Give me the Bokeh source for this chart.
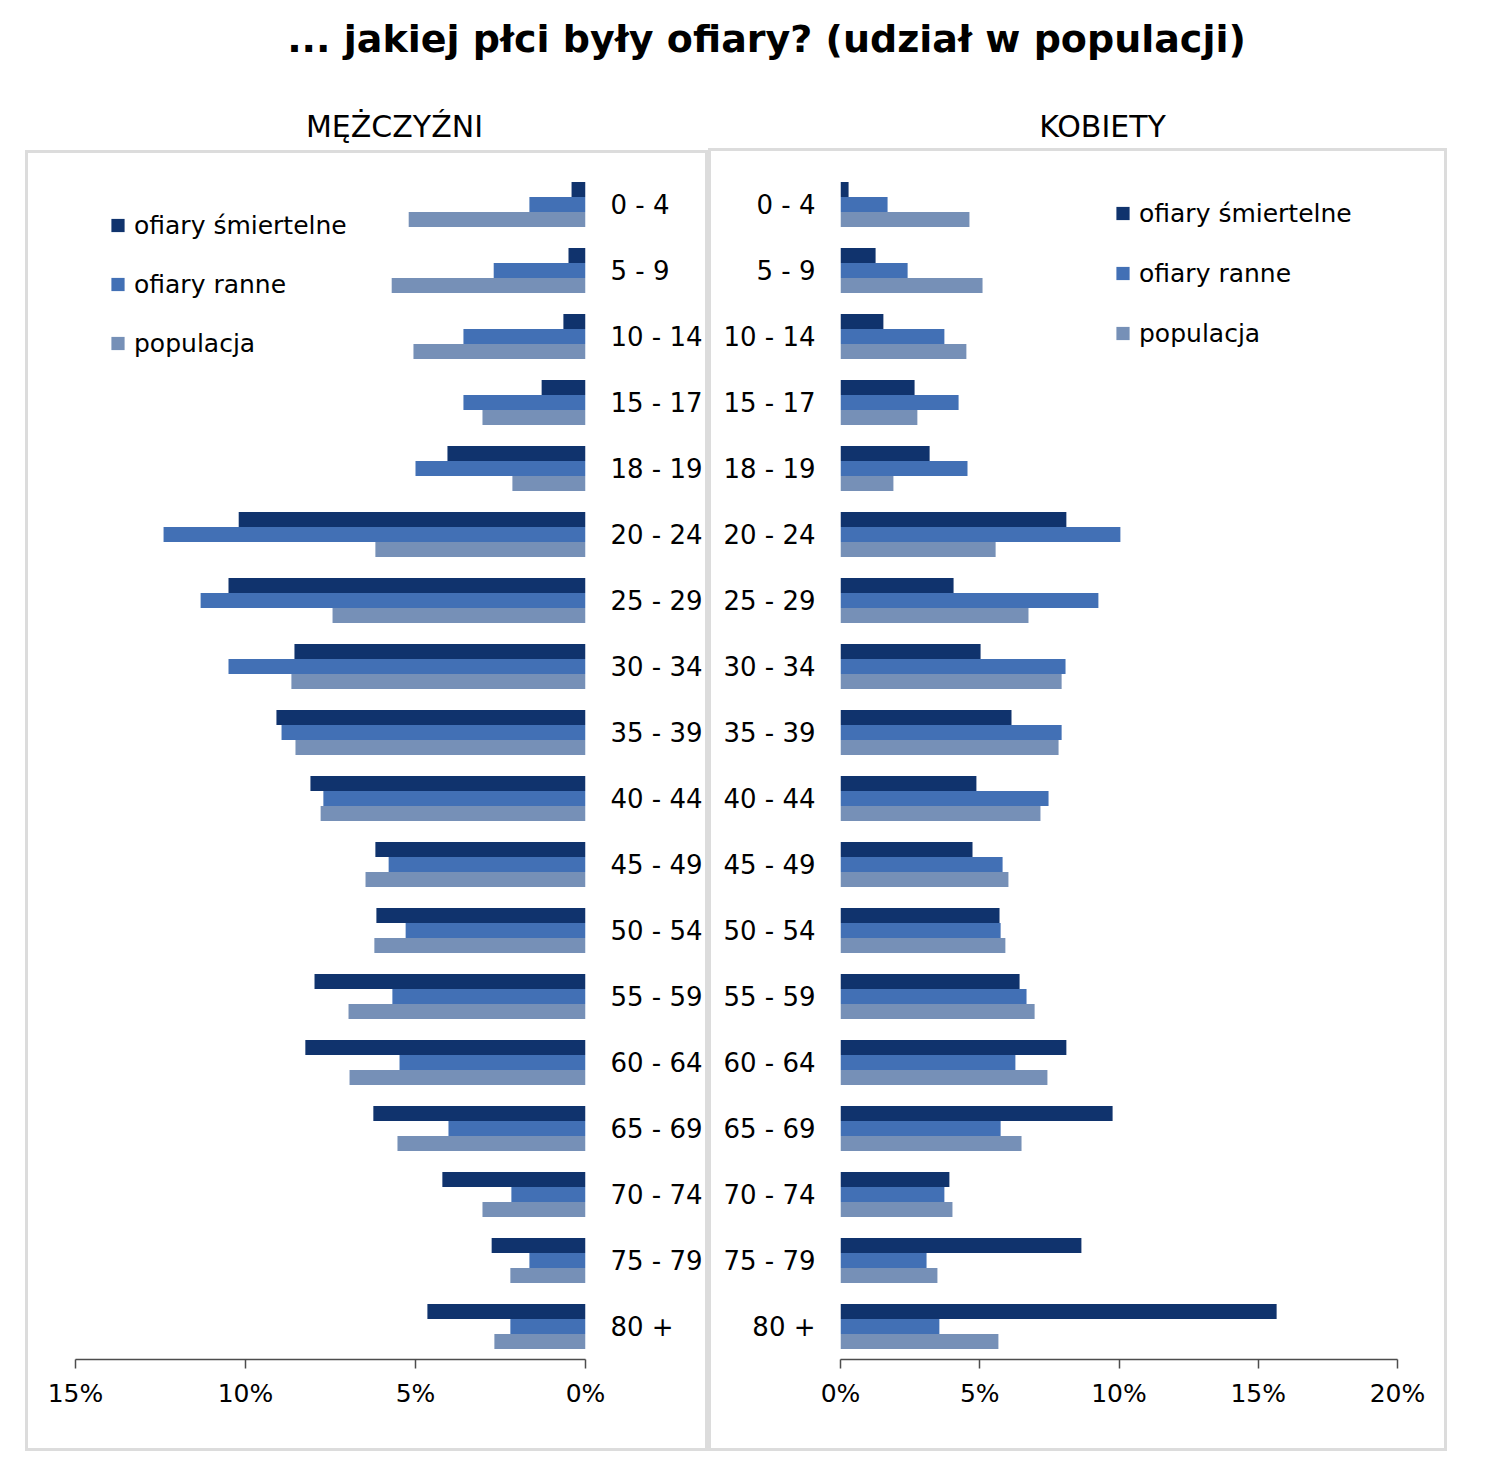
from bokeh.plotting import figure
from bokeh.models import (Range1d, FactorRange, FixedTicker, CustomJSTickFormatter,
                          Legend, LegendItem, ColumnDataSource, Spacer)
from bokeh.layouts import column, row
from bokeh.transform import dodge
from bokeh.core.properties import value
from bokeh.embed import file_html
from bokeh.resources import INLINE

# ---------------- data ----------------
categories = ["0 - 4", "5 - 9", "10 - 14", "15 - 17", "18 - 19", "20 - 24", "25 - 29",
              "30 - 34", "35 - 39", "40 - 44", "45 - 49", "50 - 54", "55 - 59",
              "60 - 64", "65 - 69", "70 - 74", "75 - 79", "80 +"]
series_names = ["ofiary śmiertelne", "ofiary ranne", "populacja"]

men_fatal = [0.41, 0.50, 0.65, 1.29, 4.06, 10.20, 10.50, 8.56, 9.09, 8.09, 6.18, 6.15,
             7.97, 8.24, 6.24, 4.21, 2.76, 4.65]
men_injured = [1.65, 2.70, 3.59, 3.59, 5.00, 12.41, 11.32, 10.50, 8.94, 7.71, 5.79, 5.29,
               5.68, 5.47, 4.03, 2.18, 1.65, 2.21]
men_pop = [5.20, 5.70, 5.06, 3.03, 2.15, 6.18, 7.44, 8.65, 8.53, 7.79, 6.47, 6.21,
           6.97, 6.94, 5.53, 3.03, 2.21, 2.68]

women_fatal = [0.29, 1.26, 1.54, 2.66, 3.20, 8.11, 4.06, 5.03, 6.14, 4.88, 4.74, 5.71,
               6.43, 8.11, 9.77, 3.91, 8.65, 15.66]
women_injured = [1.69, 2.41, 3.73, 4.24, 4.56, 10.05, 9.26, 8.08, 7.94, 7.47, 5.82, 5.75,
                 6.68, 6.28, 5.75, 3.73, 3.09, 3.55]
women_pop = [4.63, 5.10, 4.52, 2.76, 1.90, 5.57, 6.75, 7.94, 7.83, 7.18, 6.03, 5.92,
             6.97, 7.43, 6.50, 4.02, 3.48, 5.67]

men_ticks = [0, 5, 10, 15]
women_ticks = [0, 5, 10, 15, 20]

title_text = "... jakiej płci były ofiary? (udział w populacji)"
men_title = "MĘŻCZYŹNI"
women_title = "KOBIETY"

# ---------------- style ----------------
COLORS = ["#10336d", "#4270b5", "#7690b7"]
FONT = "DejaVu Sans"
BORDER = "3px solid #dcdcdc"
OFFSETS = [0.227, 0.0, -0.227]
BAR_H = 0.226


def make_panel(fatal, injured, pop, x_start, x_end, ticks, side, w, h,
               mb_left, mb_right, mb_top, legend_loc, legend_spacing):
    src = ColumnDataSource(dict(cat=categories, fatal=fatal, injured=injured, pop=pop))
    p = figure(width=w, height=h, output_backend="svg", toolbar_location=None,
               x_range=Range1d(x_start, x_end),
               y_range=FactorRange(factors=list(reversed(categories))),
               y_axis_location=side,
               min_border_left=mb_left, min_border_right=mb_right,
               min_border_top=mb_top, min_border_bottom=95,
               styles={"border": BORDER})
    p.outline_line_color = None
    p.xgrid.visible = False
    p.ygrid.visible = False
    p.background_fill_color = "white"
    p.border_fill_color = "white"

    for col, off, c in zip(["fatal", "injured", "pop"], OFFSETS, COLORS):
        p.hbar(y=dodge("cat", off, range=p.y_range), left=0, right=col, height=BAR_H,
               source=src, fill_color=c, line_color=None)

    # x axis
    xa = p.xaxis[0]
    xa.ticker = FixedTicker(ticks=ticks)
    xa.formatter = CustomJSTickFormatter(code="return tick + '%'")
    xa.axis_line_color = "#4d4d4d"
    xa.axis_line_width = 1.5
    xa.major_tick_line_color = "#4d4d4d"
    xa.major_tick_line_width = 1.5
    xa.major_tick_out = 9
    xa.major_tick_in = 0
    xa.minor_tick_line_color = None
    xa.major_label_text_font = FONT
    xa.major_label_text_font_size = "25px"
    xa.major_label_text_color = "black"
    xa.major_label_standoff = 10

    # y axis (categories)
    ya = p.yaxis[0]
    ya.axis_line_color = None
    ya.major_tick_line_color = None
    ya.minor_tick_line_color = None
    ya.major_tick_out = 0
    ya.major_tick_in = 0
    ya.major_label_text_font = FONT
    ya.major_label_text_font_size = "26px"
    ya.major_label_text_color = "black"
    ya.major_label_standoff = 25

    # legend (square markers; size-0 points so only the legend shows them)
    items = []
    for name, c in zip(series_names, COLORS):
        r = p.scatter(x=0, y="cat", source=src, marker="square", size=0,
                      fill_color=c, line_color=None)
        items.append(LegendItem(label=name, renderers=[r]))
    leg = Legend(items=items, location=legend_loc)
    leg.glyph_width = 33
    leg.glyph_height = 34
    leg.spacing = legend_spacing
    leg.padding = 0
    leg.margin = 0
    leg.label_standoff = -3
    leg.border_line_color = None
    leg.background_fill_alpha = 0
    leg.label_text_font = FONT
    leg.label_text_font_size = "25px"
    leg.label_text_color = "black"
    p.add_layout(leg, "center")
    return p


pL = make_panel(men_fatal, men_injured, men_pop, 15, 0, men_ticks, "right",
                683, 1301, 47, 126, 18, (26, 999), 25)
pR = make_panel(women_fatal, women_injured, women_pop, 0, 20, women_ticks, "left",
                739, 1303, 129, 53, 20, (266, 1009), 26)

# header with titles
hdr = figure(width=1500, height=148, output_backend="svg", toolbar_location=None,
             x_range=Range1d(0, 1500), y_range=Range1d(148, 0),
             min_border=0, x_axis_type=None, y_axis_type=None)
hdr.outline_line_color = None
hdr.xgrid.visible = False
hdr.ygrid.visible = False
hdr.text(x=[766], y=[38], text=[title_text], text_font=value(FONT),
         text_font_style="bold", text_font_size="38px", text_align="center",
         text_baseline="middle", text_color="black")
hdr.text(x=[394, 1102], y=[126, 126], text=[men_title, women_title], text_font=value(FONT),
         text_font_size="30px", text_align="center", text_baseline="middle",
         text_color="black")

layout = column(hdr, row(Spacer(width=25, height=10),
                         column(Spacer(width=683, height=2), pL),
                         pR))

open("out.html", "w").write(file_html(layout, INLINE))
